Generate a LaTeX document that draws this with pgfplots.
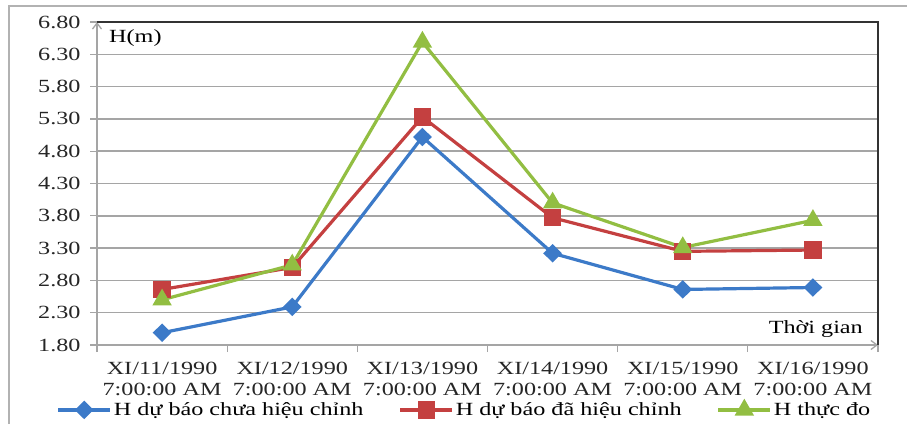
\documentclass[border=0pt]{standalone}
\usepackage{fontspec}
\setmainfont{Liberation Serif}[FakeStretch=1.3]
\usepackage{pgfplots}
\pgfplotsset{compat=1.18}
\usetikzlibrary{arrows.meta}
\definecolor{cblue}{RGB}{60,122,200}
\definecolor{cred}{RGB}{196,64,64}
\definecolor{cgreen}{RGB}{146,190,66}
\definecolor{gridc}{RGB}{165,165,165}
\newcommand{\lf}{\fontsize{18.6bp}{20.5bp}\selectfont}
\begin{document}
\begin{tikzpicture}[x=1bp,y=1bp]
\useasboundingbox (0,0) rectangle (910,427);
\draw[gridc!85, line width=1.5bp] (9,3) -- (9,421) -- (907,421);
\begin{axis}[
  at={(97bp,82bp)}, anchor=south west,
  scale only axis, width=781bp, height=323bp,
  xmin=0.5, xmax=6.5, ymin=1.8, ymax=6.8,
  clip=false,
  axis x line*=bottom, axis y line*=left,
  x axis line style={gridc, line width=1.3bp, -{Straight Barb[length=6bp,width=9bp]}},
  y axis line style={gridc, line width=1.3bp, -{Straight Barb[length=6bp,width=9bp]}},
  tick align=outside,
  major tick length=7bp,
  tick style={gridc, line width=1.3bp},
  xtick={0.5,1.5,2.5,3.5,4.5,5.5,6.5},
  xticklabels={},
  extra x ticks={1,2,3,4,5,6},
  extra x tick labels={XI/11/1990\\7:00:00 AM, XI/12/1990\\7:00:00 AM, XI/13/1990\\7:00:00 AM, XI/14/1990\\7:00:00 AM, XI/15/1990\\7:00:00 AM, XI/16/1990\\7:00:00 AM},
  extra x tick style={major tick length=0pt, xticklabel style={yshift=-14bp}},
  xticklabel style={align=center, font=\lf, text=black!85},
  ytick={1.8,2.3,2.8,3.3,3.8,4.3,4.8,5.3,5.8,6.3,6.8},
  yticklabels={1.80,2.30,2.80,3.30,3.80,4.30,4.80,5.30,5.80,6.30,6.80},
  yticklabel style={font=\lf, text=black!85, xshift=-6bp},
  ymajorgrids,
  grid style={gridc, line width=1.5bp},
  legend columns=3,
  legend style={draw=none, fill=none, font=\lf, at={(-0.052,-0.201)}, anchor=west,
    inner sep=0pt,
    /tikz/every even column/.append style={column sep=33bp}},
  legend cell align=left,
  legend image code/.code={\draw[#1,mark repeat=2,mark phase=2] plot coordinates {(0bp,0bp) (26bp,0bp) (52bp,0bp)};},
]
\addplot[cblue, line width=3.2bp, mark=diamond*, mark size=7bp, mark options={xscale=1.35}] coordinates {(1,1.99) (2,2.39) (3,5.02) (4,3.22) (5,2.66) (6,2.69)};
\addlegendentry{H dự báo chưa hiệu chỉnh}
\addplot[cred, line width=3.2bp, mark=square*, mark size=7bp] coordinates {(1,2.66) (2,3.00) (3,5.33) (4,3.77) (5,3.25) (6,3.27)};
\addlegendentry{H dự báo đã hiệu chỉnh}
\addplot[cgreen, line width=3.2bp, mark=triangle*, mark size=8bp] coordinates {(1,2.50) (2,3.04) (3,6.49) (4,4.00) (5,3.31) (6,3.73)};
\addlegendentry{H thực đo}
\draw[black!80, line width=1.8bp] (rel axis cs:0,1) -- (rel axis cs:1,1) -- (rel axis cs:1,0);
\node[anchor=west, font=\lf, inner sep=0pt] at ([xshift=12bp,yshift=-16bp]rel axis cs:0,1) {H(m)};
\node[anchor=east, font=\lf, inner sep=0pt] at ([xshift=-15bp,yshift=16bp]rel axis cs:1,0) {Thời gian};
\end{axis}
\end{tikzpicture}
\end{document}
